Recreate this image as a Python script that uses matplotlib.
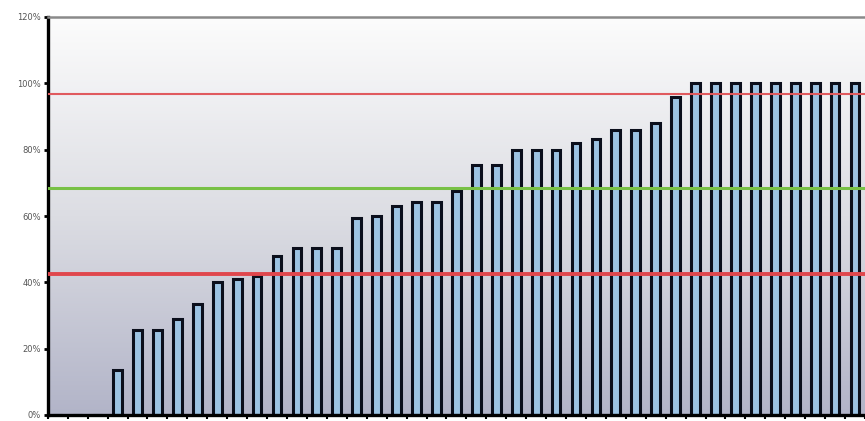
import numpy as np
import matplotlib.pyplot as plt
from matplotlib.colors import LinearSegmentedColormap

# share of items per category, in percent
values = [0, 0, 0, 13.5, 25.5, 25.5, 29, 33.5, 40, 41, 42,
          48, 50.5, 50.5, 50.5, 59.5, 60, 63, 64.3, 64.3, 67.6,
          75.3, 75.3, 80, 80, 80, 82, 83.2, 86, 86, 88,
          96, 100, 100, 100, 100, 100, 100, 100, 100, 100]
upper_limit = 96.9
mean_line = 68.4
lower_limit = 42.6
yticks = [0, 20, 40, 60, 80, 100, 120]

fig = plt.figure(figsize=(8.65, 4.21), dpi=100)
ax = fig.add_axes([47.8 / 865, 6 / 421, 1 - 47.8 / 865, 398 / 421])

x = np.arange(len(values))
xmin, xmax = -0.5, 40.2

# vertical background gradient, pale at the top, bluish grey at the bottom
bg = LinearSegmentedColormap.from_list("bg", ["#b2b4c8", "#dcdde3", "#fcfcfc"])
grad = np.linspace(0, 1, 256).reshape(-1, 1)
ax.imshow(grad, cmap=bg, aspect="auto", origin="lower",
          extent=(xmin, xmax + 1, 0, 120), zorder=0)

ax.bar(x, values, width=0.44, color="#9cc3e3", edgecolor="#0b0f1c",
       linewidth=2.2, zorder=2)

ax.axhline(upper_limit, color="#e05a5e", lw=1.5, zorder=3)
ax.axhline(mean_line, color="#78c146", lw=2.2, zorder=3)
ax.axhline(lower_limit, color="#e0474d", lw=2.8, zorder=3)

ax.set_xlim(xmin, xmax)
ax.set_ylim(0, 120)

ax.set_yticks(yticks)
ax.set_yticklabels([f"{v}%" for v in yticks], fontsize=6, color="#555555")
ax.set_xticks(np.arange(-0.5, 41, 1))
ax.set_xticklabels([])
ax.tick_params(axis="y", direction="out", length=3, width=2, color="black", pad=2)
ax.tick_params(axis="x", direction="out", length=3, width=1.5, color="black")

for side in ("left", "bottom"):
    ax.spines[side].set_color("black")
    ax.spines[side].set_linewidth(2.4)
ax.spines["top"].set_color("#8a8a8a")
ax.spines["top"].set_linewidth(1.8)
ax.spines["right"].set_visible(False)

fig.savefig("out.png", dpi=100)
